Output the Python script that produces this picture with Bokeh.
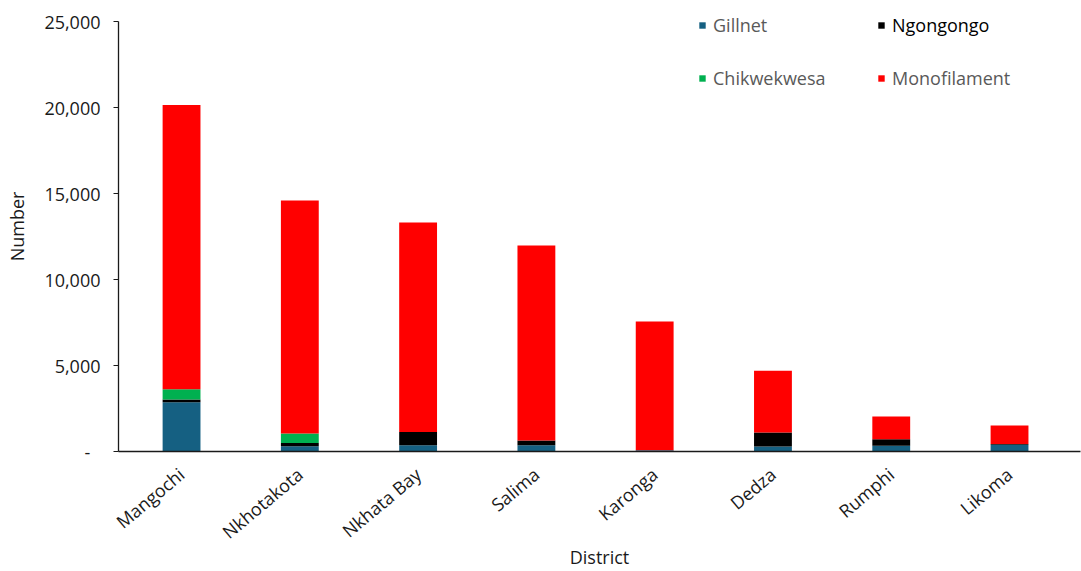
import math
from bokeh.plotting import figure
from bokeh.models import ColumnDataSource, Legend, LegendItem, FixedTicker, NumeralTickFormatter, Range1d
from bokeh.embed import file_html
from bokeh.resources import INLINE

districts = ["Mangochi", "Nkhotakota", "Nkhata Bay", "Salima", "Karonga", "Dedza", "Rumphi", "Likoma"]
gillnet = [2870, 300, 370, 360, 75, 290, 330, 390]
ngongongo = [150, 190, 770, 280, 0, 815, 385, 40]
chikwekwesa = [600, 560, 0, 0, 0, 0, 0, 0]
monofilament = [16530, 13550, 12180, 11330, 7480, 3585, 1320, 1080]
series = ["Gillnet", "Ngongongo", "Chikwekwesa", "Monofilament"]
colors = ["#156082", "#000000", "#00B050", "#FF0000"]
y_ticks = [0, 5000, 10000, 15000, 20000, 25000]

FONT = "Open Sans"
src = ColumnDataSource(dict(
    x=list(range(len(districts))),
    Gillnet=gillnet, Ngongongo=ngongongo, Chikwekwesa=chikwekwesa, Monofilament=monofilament,
))

# frame spans y = 1 .. 451 px; 25,000 sits at y = 21
p = figure(width=1081, height=571, output_backend="svg", toolbar_location=None,
           x_range=Range1d(-0.533, 7.6), y_range=Range1d(0, 25000 * 450 / 430),
           min_border_left=118, min_border_right=1, min_border_top=1, min_border_bottom=120)
p.outline_line_color = None
p.xgrid.grid_line_color = None
p.ygrid.grid_line_color = None

rs = p.vbar_stack(series, x="x", width=0.32, color=colors, line_color=None, source=src)

# axes
p.yaxis.ticker = FixedTicker(ticks=y_ticks)
p.yaxis.bounds = (0, 25000)
p.yaxis.formatter = NumeralTickFormatter(format="0,0")
p.yaxis.major_label_overrides = {0: "-\u2007"}
p.yaxis.minor_tick_line_color = None
p.yaxis.major_tick_in = 0
p.yaxis.major_tick_out = 5
p.yaxis.major_label_standoff = 13
p.yaxis.axis_label = "Number"
p.yaxis.axis_label_standoff = 12

p.xaxis.ticker = FixedTicker(ticks=list(range(len(districts))))
p.xaxis.major_label_overrides = {i: d for i, d in enumerate(districts)}
p.xaxis.major_tick_line_color = None
p.xaxis.minor_tick_line_color = None
p.xaxis.major_label_orientation = math.radians(40)
p.xaxis.major_label_standoff = 14
p.xaxis.axis_label = "District"
p.xaxis.axis_label_standoff = -11

for ax in (p.xaxis[0], p.yaxis[0]):
    ax.axis_line_color = "#1a1a1a"
    ax.axis_line_width = 1.3
    ax.major_label_text_font = FONT
    ax.major_label_text_font_size = "18px"
    ax.major_label_text_color = "#1a1a1a"
    ax.axis_label_text_font = FONT
    ax.axis_label_text_font_size = "18px"
    ax.axis_label_text_font_style = "normal"
    ax.axis_label_text_color = "#1a1a1a"
p.yaxis.major_tick_line_color = "#1a1a1a"

# legends (one per item for exact placement)
pos = [(580, 414), (759, 414), (580, 361), (759, 361)]
txt_colors = ["#595959", "#000000", "#595959", "#595959"]
for r, name, (lx, ly), tc in zip(rs, series, pos, txt_colors):
    lg = Legend(items=[LegendItem(label=name, renderers=[r])], location=(lx, ly),
                padding=0, margin=0, border_line_color=None, background_fill_alpha=0,
                glyph_width=8, glyph_height=8, label_standoff=7, label_height=22,
                label_text_font=FONT, label_text_font_size="18px", label_text_color=tc)
    p.add_layout(lg, "center")

open("out.html", "w").write(file_html(p, INLINE))
